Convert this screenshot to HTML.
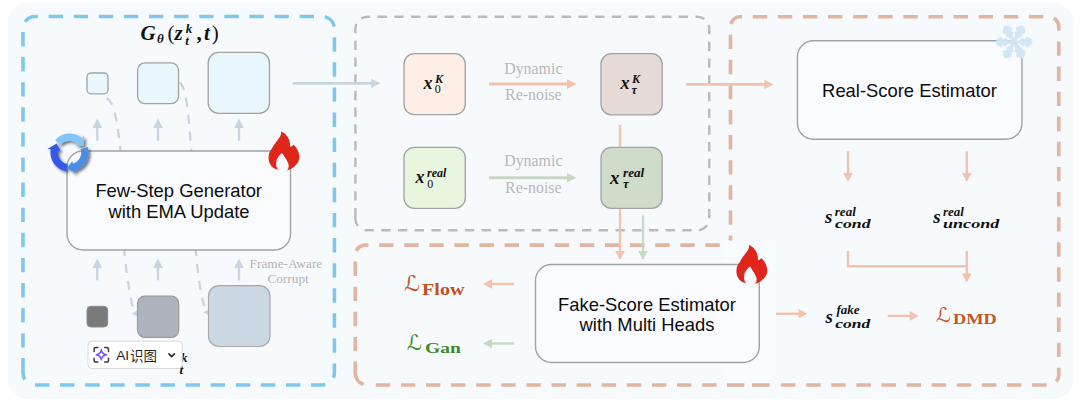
<!DOCTYPE html>
<html><head><meta charset="utf-8"><title>Framework</title>
<style>html,body{margin:0;padding:0;background:#fff;font-family:"Liberation Sans",sans-serif}svg{display:block}</style>
</head><body>
<svg width="1080" height="406" viewBox="0 0 1080 406">
<defs>
<filter id="sh" x="-30%" y="-30%" width="170%" height="170%"><feGaussianBlur in="SourceAlpha" stdDeviation="1.6"/><feOffset dx="2" dy="2.2"/><feComponentTransfer><feFuncA type="linear" slope="0.55"/></feComponentTransfer><feMerge><feMergeNode/><feMergeNode in="SourceGraphic"/></feMerge></filter>
</defs>
<rect width="1080" height="406" fill="#fff"/>
<rect x="7.5" y="2.3" width="1066.2" height="396.9" rx="21" fill="#f6fafd" />
<path d="M35 385L322.4 385A12 12 0 0 0 334.4 373L334.4 28.55A12 12 0 0 0 322.4 16.55L35 16.55A12 12 0 0 0 23 28.55L23 352" fill="none" stroke="#80c8ea" stroke-width="3.6" stroke-dasharray="14.4 10.7"/>
<path d="M23 357.9L23 373A12 12 0 0 0 24.94 379.54" fill="none" stroke="#80c8ea" stroke-width="3.6"/>
<path d="M364.5 230.2L697.25 230.2A12 12 0 0 0 709.25 218.2L709.25 28.75A12 12 0 0 0 697.25 16.75L367.4 16.75A12 12 0 0 0 355.4 28.75L355.4 203" fill="none" stroke="#bababa" stroke-width="2.4" stroke-dasharray="9.33 7.4"/>
<path d="M355.4 208.1L355.4 219Q355.6 223.5 357.9 226" fill="none" stroke="#bababa" stroke-width="2.4"/>
<path d="M781.1 385L1048.75 385A10 10 0 0 0 1058.75 375L1058.75 26.75A10 10 0 0 0 1048.75 16.75L740.5 16.75A10 10 0 0 0 730.5 26.75L730.5 245.2" fill="none" stroke="#e1b5a0" stroke-width="3.7" stroke-dasharray="14.4 10.7"/>
<path d="M719.8 245.2L365.3 245.2A10 10 0 0 0 355.3 255.2L355.3 355" fill="none" stroke="#e1b5a0" stroke-width="3.7" stroke-dasharray="14.4 10.7"/>
<path d="M355.3 361.4L355.3 373A12 12 0 0 0 363.59 384.41" fill="none" stroke="#e1b5a0" stroke-width="3.7"/>
<path d="M375.8 385L741.5 385" fill="none" stroke="#e1b5a0" stroke-width="3.7" stroke-dasharray="14.4 10.7"/>
<rect x="723.5" y="240.5" width="51" height="158.8" fill="#f8fbfe"/>
<path d="M726.9 385L744.4 385M752 385L769.7 385" fill="none" stroke="#e1b5a0" stroke-width="3.7"/>
<path d="M106.3 98.4C113.2 99.8 117.4 119 120.6 152" stroke="#c8d4e1" stroke-width="2.3" fill="none" stroke-dasharray="9 8"/>
<path d="M178.5 82C186 84 188.5 112 191.3 152" stroke-dashoffset="-1.2" stroke="#c8d4e1" stroke-width="2.3" fill="none" stroke-dasharray="9 8"/>
<path d="M124.3 250C126 270 129 292 133 308" stroke-dashoffset="3" stroke="#c8d4e1" stroke-width="2.3" fill="none" stroke-dasharray="9 8"/>
<path d="M195.7 250C197.5 270 200 292 204.5 307" stroke-dashoffset="3" stroke="#c8d4e1" stroke-width="2.3" fill="none" stroke-dasharray="9 8"/>
<path d="M131.8 313.5L137.2 310.5L137.2 316.5Z" fill="#c8d4e1"/>
<path d="M203.3 312.3L208.6 309.4L208.6 315.2Z" fill="#c8d4e1"/>
<rect x="87" y="73" width="21" height="20.8" rx="4" fill="#e9f6fc" stroke="#a2a2a2" stroke-width="1.3" />
<rect x="137.6" y="62.8" width="40.9" height="40.9" rx="7.5" fill="#e9f6fc" stroke="#a2a2a2" stroke-width="1.3" />
<rect x="208.2" y="52.4" width="61.3" height="61" rx="10.5" fill="#e9f6fc" stroke="#a2a2a2" stroke-width="1.3" />
<rect x="87" y="306.3" width="20.7" height="20.7" rx="4" fill="#7a7a7a" stroke="#8a8a8a" stroke-width="1" />
<rect x="137.5" y="296.1" width="41.2" height="41.3" rx="7.5" fill="#aeb4be" stroke="#9a9a9a" stroke-width="1.2" />
<rect x="208.5" y="285.7" width="61.5" height="60.8" rx="10.5" fill="#cbd7e3" stroke="#a9a9a9" stroke-width="1.2" />
<path d="M97.3 140.8L97.3 127.5" stroke="#c8d4e1" stroke-width="2.3" fill="none"/>
<path d="M97.3 118.5L102.1 128L92.5 128Z" fill="#c8d4e1"/>
<path d="M97.3 280.3L97.3 267.4" stroke="#c8d4e1" stroke-width="2.3" fill="none"/>
<path d="M97.3 258.4L102.1 267.9L92.5 267.9Z" fill="#c8d4e1"/>
<path d="M158 140.8L158 127.5" stroke="#c8d4e1" stroke-width="2.3" fill="none"/>
<path d="M158 118.5L162.8 128L153.2 128Z" fill="#c8d4e1"/>
<path d="M158 280.3L158 267.4" stroke="#c8d4e1" stroke-width="2.3" fill="none"/>
<path d="M158 258.4L162.8 267.9L153.2 267.9Z" fill="#c8d4e1"/>
<path d="M239 140.8L239 127.5" stroke="#c8d4e1" stroke-width="2.3" fill="none"/>
<path d="M239 118.5L243.8 128L234.2 128Z" fill="#c8d4e1"/>
<path d="M239 280.3L239 267.4" stroke="#c8d4e1" stroke-width="2.3" fill="none"/>
<path d="M239 258.4L243.8 267.9L234.2 267.9Z" fill="#c8d4e1"/>
<rect x="67" y="151" width="223.5" height="99" rx="16" fill="#fafbfe" stroke="#a2a2a2" stroke-width="1.4" />
<text x="178.7" y="197.2" text-anchor="middle" font-family="'Liberation Sans', sans-serif" font-size="18.4" fill="#0c0c0c">Few-Step Generator</text>
<text x="179" y="217.6" text-anchor="middle" font-family="'Liberation Sans', sans-serif" font-size="18.4" fill="#0c0c0c">with EMA Update</text>
<g font-family="'Liberation Serif', serif" font-weight="bold" font-style="italic" fill="#111">
<text x="140.5" y="40" font-size="21">G</text>
<text x="157" y="42.6" font-size="13">θ</text>
<text x="167.5" y="40" font-size="21" font-style="normal" font-weight="normal">(</text>
<text x="174.5" y="40" font-size="21">z</text>
<text x="185.8" y="33" font-size="13">k</text>
<text x="185.2" y="44.6" font-size="13">t</text>
<text x="196.5" y="40" font-size="21" font-style="normal">,</text>
<text x="204" y="40" font-size="21">t</text>
<text x="211.8" y="40" font-size="21" font-style="normal" font-weight="normal">)</text>
</g>
<path d="M292.6 83.35L371.7 83.35" stroke="#c8d4e1" stroke-width="2.7" fill="none"/>
<path d="M380.4 83.35L371.2 88.05L371.2 78.65Z" fill="#c8d4e1"/>
<text x="249.6" y="267.85" font-family="'Liberation Serif', serif" font-size="13.3" fill="#b4b4b4">Frame-Aware</text>
<text x="267.4" y="282.55" font-family="'Liberation Serif', serif" font-size="13.3" fill="#b4b4b4">Corrupt</text>
<rect x="404" y="53.6" width="61.2" height="61.1" rx="10.5" fill="#fdeee6" stroke="#a2a2a2" stroke-width="1.3" />
<rect x="404" y="147.3" width="61.3" height="61" rx="10.5" fill="#e8f6e0" stroke="#a2a2a2" stroke-width="1.3" />
<rect x="601" y="53.6" width="61.2" height="61.2" rx="10.5" fill="#e5dad6" stroke="#a2a2a2" stroke-width="1.3" />
<path d="M620 125L620 251.6" stroke="#f2c2ac" stroke-width="2.3" fill="none"/>
<path d="M620 260.1L615.25 251.1L624.75 251.1Z" fill="#f2c2ac"/>
<rect x="601" y="147.3" width="61.2" height="61.1" rx="10.5" fill="#cedcc9" stroke="#a2a2a2" stroke-width="1.3" />
<path d="M643 215.5L643 251.6" stroke="#c8d8c4" stroke-width="2.3" fill="none"/>
<path d="M643 260.1L638.25 251.1L647.75 251.1Z" fill="#c8d8c4"/>
<g font-family="'Liberation Serif', serif" font-weight="bold" font-style="italic" fill="#111">
<text x="423.5" y="89.1" font-size="18">x</text>
<text x="434.9" y="82.8" font-size="12.2">K</text>
<text x="434.7" y="93.4" font-size="12" font-style="normal" font-weight="normal">0</text>
<text x="415.6" y="183.3" font-size="18">x</text>
<text x="427.1" y="177.2" font-size="12">real</text>
<text x="427.3" y="187.6" font-size="12" font-style="normal" font-weight="normal">0</text>
<text x="620.5" y="89.3" font-size="18">x</text>
<text x="631.9" y="82.9" font-size="12.2">K</text>
<text x="631.6" y="93.6" font-size="12">τ</text>
<text x="610" y="183.6" font-size="19">x</text>
<text x="623" y="176.8" font-size="13.2">real</text>
<text x="623" y="188.2" font-size="13">τ</text>
</g>
<path d="M489 84.1L567.5 84.1" stroke="#f2c2ac" stroke-width="3" fill="none"/>
<path d="M576.5 84.1L567 88.9L567 79.3Z" fill="#f2c2ac"/>
<path d="M489 177.8L567.5 177.8" stroke="#c8d8c4" stroke-width="3" fill="none"/>
<path d="M576.5 177.8L567 182.6L567 173Z" fill="#c8d8c4"/>
<text x="504.2" y="74" font-family="'Liberation Serif', serif" font-size="15.9" fill="#b8b8b8">Dynamic</text>
<text x="505.1" y="100.45" font-family="'Liberation Serif', serif" font-size="15.9" fill="#b8b8b8">Re-noise</text>
<text x="504.2" y="166.3" font-family="'Liberation Serif', serif" font-size="15.9" fill="#b8b8b8">Dynamic</text>
<text x="505.1" y="192.75" font-family="'Liberation Serif', serif" font-size="15.9" fill="#b8b8b8">Re-noise</text>
<path d="M685.9 84.45L764.8 84.45" stroke="#f2c2ac" stroke-width="2.8" fill="none"/>
<path d="M773.6 84.45L764.3 89.1L764.3 79.8Z" fill="#f2c2ac"/>
<rect x="535.5" y="264.5" width="223.8" height="98" rx="16" fill="#fafbfe" stroke="#a2a2a2" stroke-width="1.4" />
<text x="647" y="310.5" text-anchor="middle" font-family="'Liberation Sans', sans-serif" font-size="18.4" fill="#0c0c0c">Fake-Score Estimator</text>
<text x="647" y="330.9" text-anchor="middle" font-family="'Liberation Sans', sans-serif" font-size="18.4" fill="#0c0c0c">with Multi Heads</text>
<path d="M514.25 284L491.5 284" stroke="#f2c2ac" stroke-width="2.4" fill="none"/>
<path d="M483 284L492 279.2L492 288.8Z" fill="#f2c2ac"/>
<path d="M514.25 343.5L491.5 343.5" stroke="#c8d8c4" stroke-width="2.4" fill="none"/>
<path d="M483 343.5L492 338.7L492 348.3Z" fill="#c8d8c4"/>
<text x="404" y="291" font-family="'Liberation Serif', 'DejaVu Serif', 'DejaVu Sans', serif" font-size="22" fill="#c1501c">ℒ</text>
<text x="422" y="294.5" font-family="'Liberation Serif', serif" font-weight="bold" font-size="16.8" fill="#c1501c" textLength="42.5" lengthAdjust="spacingAndGlyphs">Flow</text>
<text x="407" y="349.6" font-family="'Liberation Serif', 'DejaVu Serif', 'DejaVu Sans', serif" font-size="21" fill="#3e8a2c">ℒ</text>
<text x="425" y="353" font-family="'Liberation Serif', serif" font-weight="bold" font-size="15.5" fill="#3e8a2c" textLength="36" lengthAdjust="spacingAndGlyphs">Gan</text>
<rect x="797.4" y="40.8" width="224.6" height="98.5" rx="16" fill="#fafbfe" stroke="#a2a2a2" stroke-width="1.4" />
<text x="909.5" y="97.2" text-anchor="middle" font-family="'Liberation Sans', sans-serif" font-size="18.4" fill="#0c0c0c">Real-Score Estimator</text>
<path d="M848 151.25L848 173.5" stroke="#f2c2ac" stroke-width="2.4" fill="none"/>
<path d="M848 182L843.2 173L852.8 173Z" fill="#f2c2ac"/>
<path d="M966.75 151.25L966.75 173.5" stroke="#f2c2ac" stroke-width="2.4" fill="none"/>
<path d="M966.75 182L961.95 173L971.55 173Z" fill="#f2c2ac"/>
<g font-family="'Liberation Serif', serif" font-weight="bold" font-style="italic" fill="#111">
<text x="825" y="222.7" font-size="19">s</text>
<text x="834.8" y="215.8" font-size="13">real</text>
<text x="835" y="228" font-size="13" textLength="35.5" lengthAdjust="spacingAndGlyphs">cond</text>
<text x="933.3" y="222.7" font-size="19">s</text>
<text x="943" y="215.8" font-size="13">real</text>
<text x="943" y="228" font-size="13" textLength="56.3" lengthAdjust="spacingAndGlyphs">uncond</text>
<text x="825.5" y="322.7" font-size="19">s</text>
<text x="836.5" y="314.1" font-size="13">fake</text>
<text x="835.3" y="328" font-size="13" textLength="35" lengthAdjust="spacingAndGlyphs">cond</text>
</g>
<path d="M848 251L848 266.25L966.75 266.25" stroke="#f2c2ac" stroke-width="2.4" fill="none"/>
<path d="M966.75 251L966.75 274" stroke="#f2c2ac" stroke-width="2.4" fill="none"/>
<path d="M966.75 282.5L961.95 273.5L971.55 273.5Z" fill="#f2c2ac"/>
<path d="M776 313.75L799 313.75" stroke="#f2c2ac" stroke-width="2.4" fill="none"/>
<path d="M807.5 313.75L798.5 318.55L798.5 308.95Z" fill="#f2c2ac"/>
<path d="M887.8 315.9L910.2 315.9" stroke="#f2c2ac" stroke-width="2.4" fill="none"/>
<path d="M918.7 315.9L909.7 320.7L909.7 311.1Z" fill="#f2c2ac"/>
<text x="936" y="321.7" font-family="'Liberation Serif', 'DejaVu Serif', 'DejaVu Sans', serif" font-size="20.5" fill="#c4561f">ℒ</text>
<text x="953" y="324.4" font-family="'Liberation Serif', serif" font-weight="bold" font-size="15" fill="#c4561f" textLength="43.8" lengthAdjust="spacingAndGlyphs">DMD</text>
<path transform="translate(268.1 131.5) scale(1)" d="M12.9 0C13.5 4 11 6.5 9.5 8.4C7.5 11 5.5 13.5 4.1 16.5C2.5 19 1 21 0.7 23.3C0 27 0.5 31.5 3.4 34.8C5 36.5 7.5 37.8 10.2 38.2C8.6 36.5 8 34.8 8.1 32.8C8 30 8.5 28 9.5 26.5C11 24 13 22.5 14.2 21.3C15 23 16 24.5 16.9 26C18 27.5 19 29 19.6 30.8C20.3 32.5 20.8 33.5 20.6 34.8C20.5 36.5 19.8 37.8 19 38.9C21.5 38.3 24 37 25.7 35.5C28 33.5 29.8 31.5 30.5 29.4C31.2 27.5 31.4 26 31.2 24.7C31 22.5 30.5 20.5 29.8 19.2C28.8 17 27 14.5 25.1 13.1C24.5 14.5 23.5 15 22 15.2C22 13 21.8 10.5 21 8.4C20 6 19 4.5 17.6 3C16.3 1.8 14.5 0.5 12.9 0Z" fill="#e0261a"/>
<path transform="translate(736 245) scale(1)" d="M12.9 0C13.5 4 11 6.5 9.5 8.4C7.5 11 5.5 13.5 4.1 16.5C2.5 19 1 21 0.7 23.3C0 27 0.5 31.5 3.4 34.8C5 36.5 7.5 37.8 10.2 38.2C8.6 36.5 8 34.8 8.1 32.8C8 30 8.5 28 9.5 26.5C11 24 13 22.5 14.2 21.3C15 23 16 24.5 16.9 26C18 27.5 19 29 19.6 30.8C20.3 32.5 20.8 33.5 20.6 34.8C20.5 36.5 19.8 37.8 19 38.9C21.5 38.3 24 37 25.7 35.5C28 33.5 29.8 31.5 30.5 29.4C31.2 27.5 31.4 26 31.2 24.7C31 22.5 30.5 20.5 29.8 19.2C28.8 17 27 14.5 25.1 13.1C24.5 14.5 23.5 15 22 15.2C22 13 21.8 10.5 21 8.4C20 6 19 4.5 17.6 3C16.3 1.8 14.5 0.5 12.9 0Z" fill="#e0261a"/>
<g filter="url(#sh)">
<path d="M55.09 139.97A19.1 19.1 0 0 1 82.03 138.09L83.83 135.42L83.84 146.11L75.22 145.68L77.18 143.67A11.7 11.7 0 0 0 60.67 144.82Z" fill="#84c4f6"/>
<path d="M87.77 146.92A19.1 19.1 0 0 1 75.08 170.77L76.39 173.71L67.31 168.05L72.25 160.96L72.92 163.69A11.7 11.7 0 0 0 80.69 149.08Z" fill="#4a8ee2"/>
<path d="M66.18 171.31A19.1 19.1 0 0 1 50.69 149.18L47.47 149.01L56.64 143.49L60.71 151.11L57.98 150.47A11.7 11.7 0 0 0 67.47 164.02Z" fill="#3459e6"/>
</g>
<g stroke="#d1e6f6" stroke-linecap="round" fill="none" opacity="0.96">
<g transform="translate(1014 42) rotate(0)">
<path d="M1.5 0L16.75 0" stroke-width="3.7"/>
<path d="M6.2 0L8.82 -2.62M6.2 0L8.82 2.62" stroke-width="3"/>
<path d="M9.9 0L13.58 -3.68M9.9 0L13.58 3.68" stroke-width="3.2"/>
<path d="M13.6 0L16 -2.4M13.6 0L16 2.4" stroke-width="2.8"/>
</g>
<g transform="translate(1014 42) rotate(60)">
<path d="M1.5 0L16.75 0" stroke-width="3.7"/>
<path d="M6.2 0L8.82 -2.62M6.2 0L8.82 2.62" stroke-width="3"/>
<path d="M9.9 0L13.58 -3.68M9.9 0L13.58 3.68" stroke-width="3.2"/>
<path d="M13.6 0L16 -2.4M13.6 0L16 2.4" stroke-width="2.8"/>
</g>
<g transform="translate(1014 42) rotate(120)">
<path d="M1.5 0L16.75 0" stroke-width="3.7"/>
<path d="M6.2 0L8.82 -2.62M6.2 0L8.82 2.62" stroke-width="3"/>
<path d="M9.9 0L13.58 -3.68M9.9 0L13.58 3.68" stroke-width="3.2"/>
<path d="M13.6 0L16 -2.4M13.6 0L16 2.4" stroke-width="2.8"/>
</g>
<g transform="translate(1014 42) rotate(180)">
<path d="M1.5 0L16.75 0" stroke-width="3.7"/>
<path d="M6.2 0L8.82 -2.62M6.2 0L8.82 2.62" stroke-width="3"/>
<path d="M9.9 0L13.58 -3.68M9.9 0L13.58 3.68" stroke-width="3.2"/>
<path d="M13.6 0L16 -2.4M13.6 0L16 2.4" stroke-width="2.8"/>
</g>
<g transform="translate(1014 42) rotate(240)">
<path d="M1.5 0L16.75 0" stroke-width="3.7"/>
<path d="M6.2 0L8.82 -2.62M6.2 0L8.82 2.62" stroke-width="3"/>
<path d="M9.9 0L13.58 -3.68M9.9 0L13.58 3.68" stroke-width="3.2"/>
<path d="M13.6 0L16 -2.4M13.6 0L16 2.4" stroke-width="2.8"/>
</g>
<g transform="translate(1014 42) rotate(300)">
<path d="M1.5 0L16.75 0" stroke-width="3.7"/>
<path d="M6.2 0L8.82 -2.62M6.2 0L8.82 2.62" stroke-width="3"/>
<path d="M9.9 0L13.58 -3.68M9.9 0L13.58 3.68" stroke-width="3.2"/>
<path d="M13.6 0L16 -2.4M13.6 0L16 2.4" stroke-width="2.8"/>
</g>
</g>
<g font-family="'Liberation Serif', serif" font-weight="bold" font-style="italic" fill="#111">
<text x="168.7" y="369.1" font-size="20">z</text>
<text x="180.8" y="362" font-size="13.5">k</text>
<text x="179.5" y="374" font-size="13.5">t</text>
</g>
<rect x="88" y="341.2" width="94.2" height="27.3" rx="4" fill="#ffffff" stroke="#d9d9d9" stroke-width="1" />
<g transform="translate(93.3 346.8)" fill="none" stroke-linecap="round" stroke-linejoin="round">
<path d="M0.8 4.6V2.6Q0.8 0.8 2.6 0.8H4.6M11.4 0.8H13.4Q15.2 0.8 15.2 2.6V4.6M15.2 11.4V13.4Q15.2 15.2 13.4 15.2H11.4M4.6 15.2H2.6Q0.8 15.2 0.8 13.4V11.4" stroke="#3a3a3a" stroke-width="1.5"/>
<path d="M8 2.9Q8.6 7.4 13.1 8Q8.6 8.6 8 13.1Q7.4 8.6 2.9 8Q7.4 7.4 8 2.9Z" stroke="#7a4dff" stroke-width="1.4"/>
</g>
<text x="116.2" y="360" font-family="'Liberation Sans', sans-serif" font-size="13.7" fill="#1f1f1f">AI</text>
<text x="130" y="360.6" font-family="'Liberation Sans', 'Noto Sans CJK SC', sans-serif" font-size="13.5" fill="#1f1f1f">识图</text>
<path d="M168.9 353.9L171.6 356.6L174.3 353.9" fill="none" stroke="#2a2a2a" stroke-width="1.6" stroke-linecap="round" stroke-linejoin="round"/>
</svg>
</body></html>
